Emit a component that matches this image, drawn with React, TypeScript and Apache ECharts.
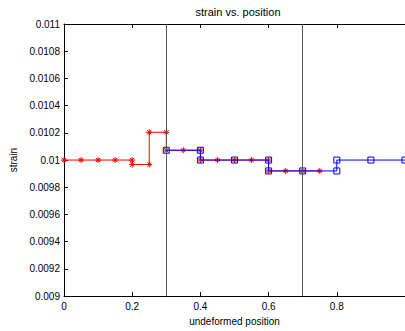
import React, { useEffect, useRef } from "react";
import * as echarts from "echarts";

const redX = [0, 0.05, 0.1, 0.15, 0.2, 0.2, 0.25, 0.25, 0.3, 0.3, 0.35, 0.4, 0.4, 0.45, 0.5, 0.55, 0.6, 0.6, 0.65, 0.7, 0.75];
const redY = [0.01, 0.01, 0.01, 0.01, 0.01, 0.009967, 0.009967, 0.010204, 0.010204, 0.010072, 0.010072, 0.010072, 0.01, 0.01, 0.01, 0.01, 0.01, 0.00992, 0.00992, 0.00992, 0.00992];
const blueX = [0.3, 0.4, 0.4, 0.5, 0.6, 0.6, 0.7, 0.8, 0.8, 0.9, 1.0];
const blueY = [0.010072, 0.010072, 0.01, 0.01, 0.01, 0.00992, 0.00992, 0.00992, 0.01, 0.01, 0.01];
const boundaryX = [0.3, 0.7];
const yTickLabels = ["0.009", "0.0092", "0.0094", "0.0096", "0.0098", "0.01", "0.0102", "0.0104", "0.0106", "0.0108", "0.011"];
const xTickLabels = ["0", "0.2", "0.4", "0.6", "0.8", "1"];

const FONT = "'Liberation Sans', Arial, Helvetica, sans-serif";
const asterisk = "path://M10,0L10,20M0,10L20,10M3,3L17,17M3,17L17,3";

export default function App() {
  const ref = useRef<HTMLDivElement>(null);
  useEffect(() => {
    const chart = echarts.init(ref.current!, null, { renderer: "svg" });
    const axisCommon = {
      type: "value",
      axisLine: { show: true, onZero: false, lineStyle: { color: "#000", width: 1 } },
      axisTick: { show: true, inside: true, length: 4, lineStyle: { color: "#000" } },
      splitLine: { show: false },
    };
    chart.setOption({
      animation: false,
      backgroundColor: "#fff",
      textStyle: { fontFamily: FONT },
      title: {
        text: "strain vs. position",
        left: 238,
        textAlign: "center",
        top: 6,
        padding: 0,
        textStyle: { fontSize: 11, fontWeight: "normal", color: "#000", fontFamily: FONT },
      },
      grid: { left: 64, top: 24, width: 348, height: 273 },
      xAxis: [
        {
          ...axisCommon,
          min: 0,
          max: 1,
          interval: 0.2,
          position: "bottom",
          name: "undeformed position",
          nameLocation: "middle",
          nameGap: 17,
          nameTextStyle: { fontSize: 10, color: "#000", fontFamily: FONT },
          axisLabel: {
            fontSize: 10,
            color: "#000",
            margin: 5,
            showMaxLabel: false,
            fontFamily: FONT,
            formatter: (v: number) => xTickLabels[Math.round(v / 0.2)] ?? "",
          },
        },
        {
          ...axisCommon,
          min: 0,
          max: 1,
          interval: 0.2,
          position: "top",
          axisLabel: { show: false },
        },
      ],
      yAxis: [
        {
          ...axisCommon,
          min: 0.009,
          max: 0.011,
          interval: 0.0002,
          position: "left",
          name: "strain",
          nameLocation: "middle",
          nameGap: 40,
          nameTextStyle: { fontSize: 10, color: "#000", fontFamily: FONT },
          axisLabel: {
            fontSize: 10,
            color: "#000",
            margin: 4,
            fontFamily: FONT,
            formatter: (v: number) => yTickLabels[Math.round((v - 0.009) / 0.0002)] ?? "",
          },
        },
      ],
      series: [
        {
          type: "line",
          data: redX.map((x, i) => [x, redY[i]]),
          symbol: asterisk,
          symbolSize: 6,
          showAllSymbol: true,
          lineStyle: { color: "#ff0000", width: 1 },
          itemStyle: { color: "#ff0000", borderColor: "#ff0000", borderWidth: 1 },
          z: 2,
          markLine: {
            silent: true,
            symbol: ["none", "none"],
            label: { show: false },
            lineStyle: { color: "#555", width: 1, type: "solid" },
            data: boundaryX.map((x) => ({ xAxis: x })),
          },
        },
        {
          type: "line",
          data: blueX.map((x, i) => [x, blueY[i]]),
          symbol: "rect",
          symbolSize: 6,
          showAllSymbol: true,
          lineStyle: { color: "#0000ff", width: 1 },
          itemStyle: { color: "transparent", borderColor: "#0000ff", borderWidth: 1 },
          z: 3,
        },
      ],
    });
    return () => chart.dispose();
  }, []);
  return (
    <div
      ref={ref}
      style={{ position: "fixed", left: 0, top: 0, width: 405, height: 331, background: "#fff" }}
    />
  );
}
